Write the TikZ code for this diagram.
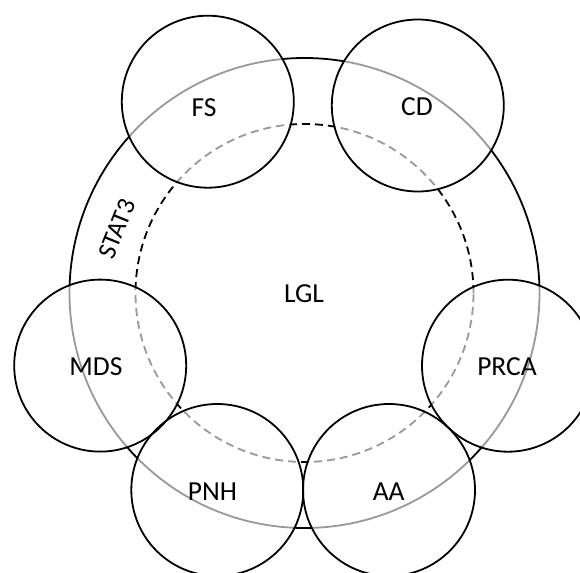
\documentclass[tikz,border=0pt]{standalone}
\usepackage{fontspec}
\setmainfont{Carlito}
\begin{document}
\begin{tikzpicture}[x=1pt,y=-1pt,
  bigline/.style={line width=1.8pt,black},
  dashline/.style={line width=1.8pt,black,dash pattern=on 8pt off 5pt},
  smallc/.style={circle,draw=black,line width=1.8pt,minimum size=172pt,inner sep=0pt},
  veil/.style={fill=white,fill opacity=0.6},
  lbl/.style={font=\fontsize{27.5}{30}\selectfont,inner sep=0pt}]
\useasboundingbox (0,0) rectangle (580,572);
\fill[white] (0,0) rectangle (580,572);
\clip (0,0) rectangle (580,572);
\coordinate (ctr) at (304.5,293);
\coordinate (cFS) at (207.8,101.7);
\coordinate (cCD) at (417.8,105.5);
\coordinate (cMDS) at (100.2,365.6);
\coordinate (cPRCA) at (508,365.7);
\coordinate (cPNH) at (217.3,490);
\coordinate (cAA) at (389,490);
% big circles
\draw[bigline] (ctr) circle (235pt);
\draw[dashline] (ctr) circle (169pt);
% veils
\foreach \c in {cFS,cCD,cMDS,cPRCA,cPNH,cAA} \fill[veil] (\c) circle (86pt);
% small circles
\node[smallc] (FS) at (cFS) {};
\node[smallc] (CD) at (cCD) {};
\node[smallc] (MDS) at (cMDS) {};
\node[smallc] (PRCA) at (cPRCA) {};
\node[smallc] (PNH) at (cPNH) {};
\node[smallc] (AA) at (cAA) {};
% labels
\node[lbl] (tFS) at (204,108) {FS};
\node[lbl] (tCD) at (417,107) {CD};
\node[lbl] (tLGL) at (304,293.5) {LGL};
\node[lbl] (tMDS) at (96,366.7) {MDS};
\node[lbl] (tPRCA) at (507,366.7) {PRCA};
\node[lbl] (tPNH) at (212.5,491.3) {PNH};
\node[lbl] (tAA) at (388.7,491.3) {AA};
\node[lbl,font=\fontsize{26}{28}\selectfont,rotate=68] (tSTAT) at (117,229) {STAT3};
\end{tikzpicture}
\end{document}
